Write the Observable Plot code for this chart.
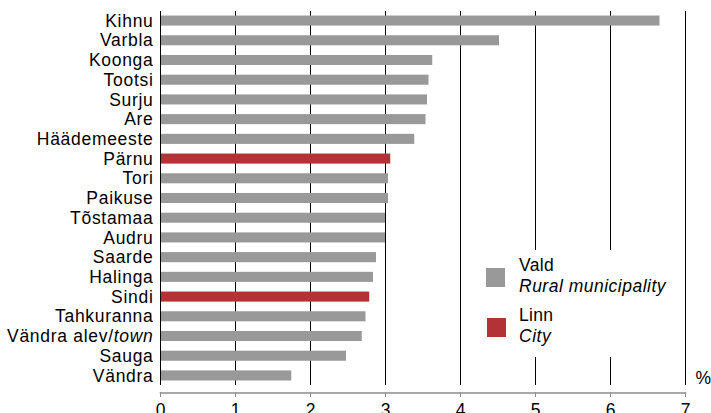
<!DOCTYPE html>
<html><head><meta charset="utf-8">
<script src="https://cdn.jsdelivr.net/npm/d3@7"></script>
<script src="https://cdn.jsdelivr.net/npm/@observablehq/plot@0.6"></script>
<style>
body{margin:0;background:#fff;overflow:hidden;}
#wrap{position:relative;width:711px;height:413px;font-family:"Liberation Sans",Arial,sans-serif;color:#000;}
#wrap svg{position:absolute;left:0;top:0;}
.legend{position:absolute;left:477px;top:250px;width:193px;height:107px;background:#fff;}
.sw{position:absolute;width:19px;height:19px;}
.lt{position:absolute;left:42px;font-size:17.5px;line-height:21px;white-space:nowrap;letter-spacing:0.3px;}
.lt i{letter-spacing:0.5px;}
</style></head><body><div id="wrap"></div>
<script>
const names = ["Kihnu","Varbla","Koonga","Tootsi","Surju","Are","Häädemeeste","Pärnu","Tori","Paikuse","Tõstamaa","Audru","Saarde","Halinga","Sindi","Tahkuranna","Vändra alev/town","Sauga","Vändra"];
const values = [6.66,4.52,3.63,3.58,3.56,3.54,3.39,3.07,3.04,3.04,3.00,3.00,2.88,2.84,2.79,2.74,2.69,2.48,1.75];
const kinds = ["Vald","Vald","Vald","Vald","Vald","Vald","Vald","Linn","Vald","Vald","Vald","Vald","Vald","Vald","Linn","Vald","Vald","Vald","Vald"];
const xTicks = [0,1,2,3,4,5,6,7];
const legendKeys = ["Vald","Linn"];
const legendSub = ["Rural municipality","City"];
const colors = ["#999999","#b23236"];

const data = names.map((n,i)=>({name:n, value:values[i], kind:kinds[i]}));

const chart = Plot.plot({
  width:711, height:413,
  marginLeft:160, marginRight:26, marginTop:11, marginBottom:28,
  style:{fontFamily:'"Liberation Sans",Arial,sans-serif', fontSize:"17.5px", color:"#000", background:"#fff", overflow:"visible"},
  x:{domain:[0,7]},
  y:{domain:names, paddingInner:0.49, paddingOuter:0.23, round:false},
  color:{domain:legendKeys, range:colors},
  marks:[
    Plot.gridX(xTicks.slice(1), {stroke:"#000", strokeOpacity:1, strokeWidth:1}),
    Plot.barX(data, {x:"value", y:"name", fill:"kind"}),
    Plot.ruleX([0], {stroke:"#000", strokeWidth:1}),
    Plot.frame({anchor:"bottom", stroke:"#8c8c8c", strokeWidth:1.6, dy:7.5}),
    Plot.axisX({ticks:xTicks, tickSize:4.5, tickPadding:6, dy:7.5, stroke:"#8c8c8c", fill:"#000", label:null, tickFormat:d=>String(d)}),
    Plot.axisY({tickSize:0, tickPadding:7, label:null}),
    Plot.text(["%"], {frameAnchor:"bottom-right", textAnchor:"start", dx:10, dy:-2, lineAnchor:"bottom", fontSize:17.5})
  ]
});

chart.querySelectorAll("g[aria-label='y-axis tick label'] text").forEach(t=>{
  t.setAttribute("letter-spacing", "0.7");
});
chart.querySelectorAll("text").forEach(t=>{
  if (t.textContent === "Vändra alev/town") {
    t.innerHTML = 'Vändra alev/<tspan font-style="italic">town</tspan>';
  }
});

const wrap = document.getElementById("wrap");
wrap.appendChild(chart);

const lg = document.createElement("div");
lg.className = "legend";
const swTops = [18, 68];
const swLefts = [9, 10];
const txtTops = [5, 55];
legendKeys.forEach((k,i)=>{
  const s = document.createElement("div");
  s.className = "sw";
  s.style.left = swLefts[i]+"px";
  s.style.top = swTops[i]+"px";
  s.style.background = colors[i];
  lg.appendChild(s);
  const t = document.createElement("div");
  t.className = "lt";
  t.style.top = txtTops[i]+"px";
  t.innerHTML = k + "<br><i>" + legendSub[i] + "</i>";
  lg.appendChild(t);
});
wrap.appendChild(lg);
</script>
</body></html>
